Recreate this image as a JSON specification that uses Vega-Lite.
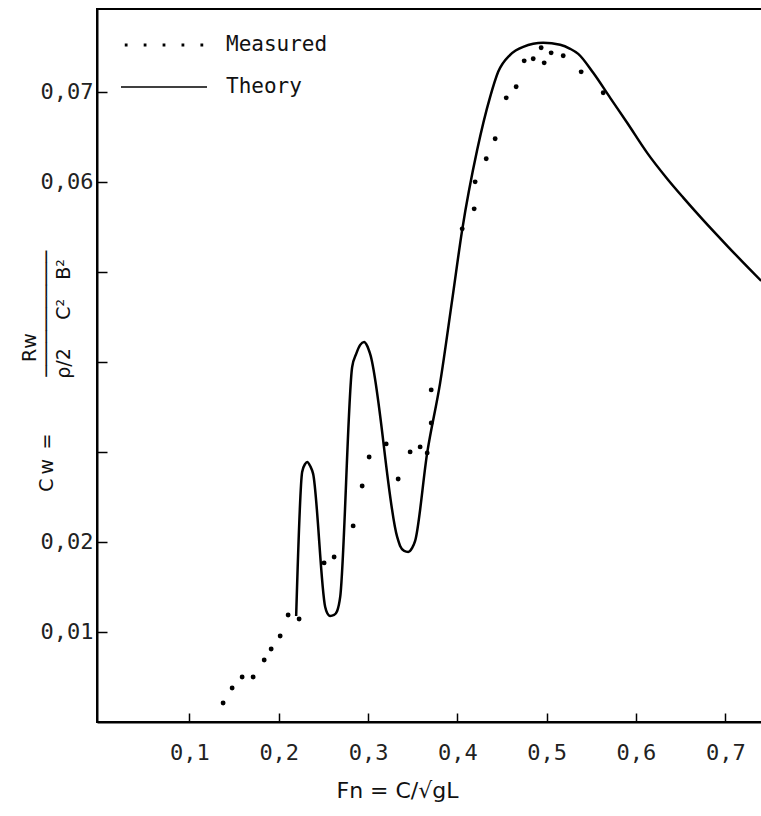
{
  "$schema": "https://vega.github.io/schema/vega-lite/v6.json",
  "width": 666,
  "height": 713,
  "autosize": {"type": "none"},
  "padding": {"left": 97, "top": 9, "right": 0, "bottom": 94},
  "background": "white",
  "config": {
    "view": {"stroke": "black", "strokeWidth": 2},
    "font": "DejaVu Sans",
    "axis": {
      "grid": false,
      "domainColor": "black",
      "domainWidth": 2,
      "tickColor": "black",
      "tickWidth": 1.5,
      "labelColor": "#222",
      "labelFont": "DejaVu Sans Mono",
      "labelFontSize": 22,
      "titleFont": "DejaVu Sans",
      "titleFontWeight": "normal",
      "titleColor": "#111"
    }
  },
  "datasets": {
    "theory": [
      {"x": 0.2195, "y": 0.01178},
      {"x": 0.2262, "y": 0.02778},
      {"x": 0.2296, "y": 0.02867},
      {"x": 0.2318, "y": 0.02889},
      {"x": 0.2352, "y": 0.02844},
      {"x": 0.2385, "y": 0.02756},
      {"x": 0.2520, "y": 0.01278},
      {"x": 0.2542, "y": 0.01211},
      {"x": 0.2576, "y": 0.01178},
      {"x": 0.2620, "y": 0.01189},
      {"x": 0.2654, "y": 0.01233},
      {"x": 0.2688, "y": 0.01389},
      {"x": 0.2822, "y": 0.03944},
      {"x": 0.2867, "y": 0.04089},
      {"x": 0.2912, "y": 0.04189},
      {"x": 0.2956, "y": 0.04222},
      {"x": 0.2990, "y": 0.04178},
      {"x": 0.3023, "y": 0.04089},
      {"x": 0.3326, "y": 0.02056},
      {"x": 0.3359, "y": 0.01956},
      {"x": 0.3404, "y": 0.0190},
      {"x": 0.3449, "y": 0.01889},
      {"x": 0.3494, "y": 0.01933},
      {"x": 0.3527, "y": 0.02011},
      {"x": 0.3662, "y": 0.02989},
      {"x": 0.3807, "y": 0.03767},
      {"x": 0.3942, "y": 0.04689},
      {"x": 0.4054, "y": 0.05467},
      {"x": 0.4222, "y": 0.06356},
      {"x": 0.4367, "y": 0.06944},
      {"x": 0.4457, "y": 0.07222},
      {"x": 0.4591, "y": 0.07411},
      {"x": 0.4737, "y": 0.0750},
      {"x": 0.4961, "y": 0.07544},
      {"x": 0.5151, "y": 0.07522},
      {"x": 0.5263, "y": 0.07478},
      {"x": 0.5353, "y": 0.07422},
      {"x": 0.5521, "y": 0.07211},
      {"x": 0.5711, "y": 0.06933},
      {"x": 0.5901, "y": 0.06656},
      {"x": 0.6125, "y": 0.06322},
      {"x": 0.6349, "y": 0.06035},
      {"x": 0.6529, "y": 0.05825},
      {"x": 0.6753, "y": 0.05575},
      {"x": 0.7021, "y": 0.0529},
      {"x": 0.7245, "y": 0.05058},
      {"x": 0.7402, "y": 0.0490}
    ],
    "measured": [
      {"x": 0.1377, "y": 0.00211},
      {"x": 0.1478, "y": 0.00378},
      {"x": 0.1590, "y": 0.0050},
      {"x": 0.1713, "y": 0.0050},
      {"x": 0.1837, "y": 0.00689},
      {"x": 0.1915, "y": 0.00811},
      {"x": 0.2016, "y": 0.00956},
      {"x": 0.2105, "y": 0.01189},
      {"x": 0.2228, "y": 0.01144},
      {"x": 0.2508, "y": 0.01767},
      {"x": 0.2620, "y": 0.01833},
      {"x": 0.2833, "y": 0.02178},
      {"x": 0.2934, "y": 0.02622},
      {"x": 0.3012, "y": 0.02944},
      {"x": 0.3203, "y": 0.03089},
      {"x": 0.3337, "y": 0.0270},
      {"x": 0.3471, "y": 0.0300},
      {"x": 0.3583, "y": 0.03056},
      {"x": 0.3662, "y": 0.02989},
      {"x": 0.3707, "y": 0.03322},
      {"x": 0.3707, "y": 0.03689},
      {"x": 0.4054, "y": 0.05478},
      {"x": 0.4188, "y": 0.0570},
      {"x": 0.4199, "y": 0.0600},
      {"x": 0.4323, "y": 0.06256},
      {"x": 0.4423, "y": 0.06478},
      {"x": 0.4547, "y": 0.06933},
      {"x": 0.4658, "y": 0.07056},
      {"x": 0.4748, "y": 0.07344},
      {"x": 0.4849, "y": 0.07367},
      {"x": 0.4938, "y": 0.07489},
      {"x": 0.4972, "y": 0.07322},
      {"x": 0.5050, "y": 0.07433},
      {"x": 0.5185, "y": 0.0740},
      {"x": 0.5386, "y": 0.07222},
      {"x": 0.5633, "y": 0.06989}
    ],
    "legend": [
      {"series": "Measured"},
      {"series": "Theory"}
    ]
  },
  "layer": [
    {
      "data": {"name": "theory"},
      "mark": {"type": "line", "color": "black", "strokeWidth": 2.5, "interpolate": "monotone", "clip": true},
      "encoding": {
        "x": {
          "field": "x",
          "type": "quantitative",
          "scale": {"domain": [-0.0035, 0.7422], "nice": false, "zero": false},
          "axis": {
            "values": [0.1, 0.2, 0.3, 0.4, 0.5, 0.6, 0.7],
            "tickSize": -9,
            "labelPadding": 29,
            "labelExpr": "replace(format(datum.value, '.1f'), '.', ',')",
            "title": "Fn = C/√gL",
            "titleFontSize": 22,
            "titleX": 300,
            "titleY": 68,
            "titleAlign": "center",
            "titleBaseline": "middle"
          }
        },
        "y": {
          "field": "y",
          "type": "quantitative",
          "scale": {"domain": [0, 0.0792], "nice": false, "zero": false},
          "axis": {
            "values": [0.01, 0.02, 0.03, 0.04, 0.05, 0.06, 0.07],
            "tickSize": -10,
            "labelPadding": 14,
            "labelExpr": "indexof([1, 2, 6, 7], round(datum.value * 100)) >= 0 ? replace(format(datum.value, '.2f'), '.', ',') : ''",
            "title": ["\u200B\u2003\u2003Rw", "C\u2009w\u2002=\u2003\u2003\u2003───────────\u2002\u200B", "\u200B\u2003\u2003\u2003\u2003\u2003ρ/2\u2003\u2002C²\u2003B²"],
            "titleFontSize": 19,
            "titleLineHeight": 17,
            "titleAngle": -90,
            "titleAlign": "center",
            "titleBaseline": "bottom",
            "titleX": -58,
            "titleY": 357
          }
        }
      }
    },
    {
      "data": {"name": "measured"},
      "mark": {"type": "circle", "color": "black", "size": 24, "opacity": 1},
      "encoding": {
        "x": {"field": "x", "type": "quantitative"},
        "y": {"field": "y", "type": "quantitative"}
      }
    },
    {
      "data": {"name": "legend"},
      "mark": {"type": "point", "opacity": 0, "filled": false, "color": "black"},
      "encoding": {
        "shape": {
          "field": "series",
          "type": "nominal",
          "scale": {
            "domain": ["Measured", "Theory"],
            "range": [
              "M-0.895,-0.015h0.03v0.03h-0.03z M-0.455,-0.015h0.03v0.03h-0.03z M-0.015,-0.015h0.03v0.03h-0.03z M0.425,-0.015h0.03v0.03h-0.03z M0.865,-0.015h0.03v0.03h-0.03z",
              "M-1,0H1"
            ]
          },
          "legend": {
            "title": null,
            "orient": "none",
            "legendX": 23,
            "legendY": 17,
            "padding": 0,
            "symbolSize": 7396,
            "clipHeight": 38,
            "rowPadding": 4,
            "labelOffset": 18,
            "labelFont": "DejaVu Sans Mono",
            "labelFontSize": 21,
            "labelColor": "#111",
            "encode": {
              "symbols": {
                "update": {
                  "fill": {"value": "black"},
                  "stroke": {"value": "black"},
                  "strokeWidth": {"value": 2.6},
                  "opacity": {"value": 1},
                  "fillOpacity": {"value": 1},
                  "strokeOpacity": {"value": 1}
                }
              }
            }
          }
        }
      }
    }
  ]
}
